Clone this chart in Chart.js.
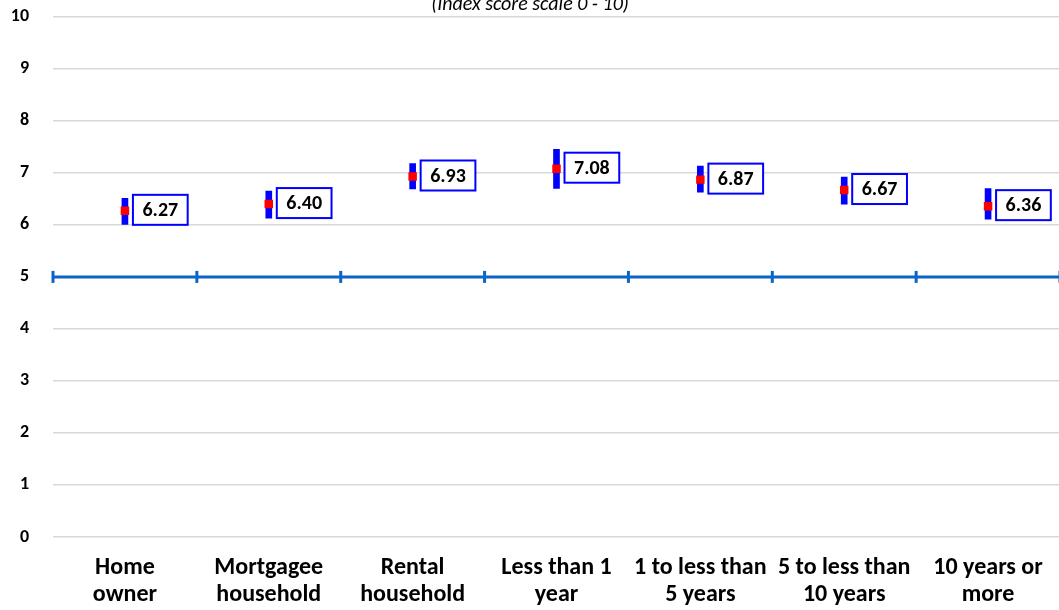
<!DOCTYPE html>
<html>
<head>
<meta charset="utf-8">
<script src="https://cdn.jsdelivr.net/npm/chart.js@4/dist/chart.umd.min.js"></script>
<style>
    html, body { margin: 0; padding: 0; background: #fff; overflow: hidden; }
    #contenedor { width: 1066px; height: 628px; margin-top: -18px; }
</style>
</head>
<body>
<div id="contenedor"><canvas id="indiceChart" width="1066" height="628"></canvas></div>
<script>
// Datos
const categorias = [
    ['Home', 'owner'],
    ['Mortgagee', 'household'],
    ['Rental', 'household'],
    ['Less than 1', 'year'],
    ['1 to less than', '5 years'],
    ['5 to less than', '10 years'],
    ['10 years or', 'more']
];
const puntuaciones = [6.27, 6.40, 6.93, 7.08, 6.87, 6.67, 6.36];
const limiteInferior = [6.01, 6.13, 6.69, 6.70, 6.63, 6.40, 6.11];
const limiteSuperior = [6.51, 6.65, 7.18, 7.45, 7.13, 6.92, 6.70];
const ejeYMin = 0;
const ejeYMax = 10;
const ejeYPaso = 1;
const lineaReferencia = 5;
const titulo = '(Index score scale 0 - 10)';

const FUENTE = "Carlito, Calibri, 'Liberation Sans Narrow', 'Open Sans', sans-serif";
const AZUL_REF = '#0a64c8';

document.addEventListener('DOMContentLoaded', function () {
    initChart();
});

// Línea de referencia en 5 con marcas entre categorías
const lineaReferenciaPlugin = {
    id: 'lineaReferencia',
    beforeDatasetsDraw(chart) {
        const { ctx, chartArea, scales } = chart;
        const y = scales.y.getPixelForValue(lineaReferencia);
        const mitad = (scales.x.getPixelForValue(1) - scales.x.getPixelForValue(0)) / 2;
        ctx.save();
        ctx.strokeStyle = AZUL_REF;
        ctx.lineWidth = 3;
        ctx.beginPath();
        ctx.moveTo(chartArea.left, y);
        ctx.lineTo(chartArea.right, y);
        ctx.stroke();
        for (let i = 0; i <= categorias.length; i++) {
            const x = scales.x.getPixelForValue(0) - mitad + i * 2 * mitad;
            ctx.beginPath();
            ctx.moveTo(x, y - 6);
            ctx.lineTo(x, y + 6);
            ctx.stroke();
        }
        ctx.restore();
    }
};

// Cajas con el valor al lado de cada punto + título
const etiquetasPlugin = {
    id: 'etiquetasValor',
    afterDatasetsDraw(chart) {
        const { ctx } = chart;
        const meta = chart.getDatasetMeta(0);
        ctx.save();
        ctx.font = 'bold 20px ' + FUENTE;
        meta.data.forEach((pt, i) => {
            const texto = puntuaciones[i].toFixed(2);
            const w = Math.max(ctx.measureText(texto).width + 19, 54);
            const h = 30;
            const x0 = pt.x + 8;
            const y0 = pt.y - h / 2 - 1;
            ctx.fillStyle = '#fff';
            ctx.fillRect(x0, y0, w, h);
            ctx.strokeStyle = '#0000ff';
            ctx.lineWidth = 2;
            ctx.strokeRect(x0, y0, w, h);
            ctx.fillStyle = '#000';
            ctx.textAlign = 'center';
            ctx.textBaseline = 'middle';
            ctx.fillText(texto, x0 + w / 2, y0 + h / 2 + 1);
        });
        ctx.restore();
    },
    afterDraw(chart) {
        const { ctx, chartArea } = chart;
        ctx.save();
        ctx.font = 'italic 20px ' + FUENTE;
        ctx.fillStyle = '#000';
        ctx.textAlign = 'center';
        ctx.textBaseline = 'alphabetic';
        ctx.fillText(titulo, 530, chartArea.top - 7);
        ctx.restore();
    }
};

function initChart() {
    const ctx = document.getElementById('indiceChart');
    const rangos = limiteInferior.map((v, i) => [v, limiteSuperior[i]]);
    new Chart(ctx, {
        type: 'bar',
        data: {
            labels: categorias,
            datasets: [
                {
                    type: 'line',
                    label: 'Puntuación',
                    data: puntuaciones,
                    showLine: false,
                    pointStyle: 'rect',
                    pointRadius: 6,
                    pointBackgroundColor: '#ff0000',
                    pointBorderWidth: 0,
                    order: 0
                },
                {
                    type: 'bar',
                    label: 'Intervalo',
                    data: rangos,
                    backgroundColor: '#0000ff',
                    barThickness: 6,
                    order: 1
                }
            ]
        },
        options: {
            responsive: false,
            animation: false,
            devicePixelRatio: 1,
            layout: { padding: { top: 0, right: 3, left: 0, bottom: 0 } },
            elements: { point: { pointStyle: 'rect' } },
            plugins: {
                legend: { display: false },
                tooltip: { enabled: false },
                title: { display: false }
            },
            scales: {
                x: {
                    grid: { display: false },
                    border: { display: false },
                    ticks: {
                        color: '#000',
                        font: { family: FUENTE, size: 24, weight: 'bold', lineHeight: 1.12 },
                        padding: 10,
                        maxRotation: 0,
                        autoSkip: false
                    },
                    afterFit(axis) { axis.height = 73; }
                },
                y: {
                    min: ejeYMin,
                    max: ejeYMax,
                    grid: { color: '#d9d9d9', lineWidth: 1.5, drawTicks: false },
                    border: { display: false },
                    ticks: {
                        stepSize: ejeYPaso,
                        color: '#000',
                        font: { family: FUENTE, size: 18, weight: 'bold' },
                        padding: 24
                    },
                    afterFit(axis) { axis.width = 53; }
                }
            }
        },
        plugins: [lineaReferenciaPlugin, etiquetasPlugin]
    });
}
</script>
</body>
</html>
